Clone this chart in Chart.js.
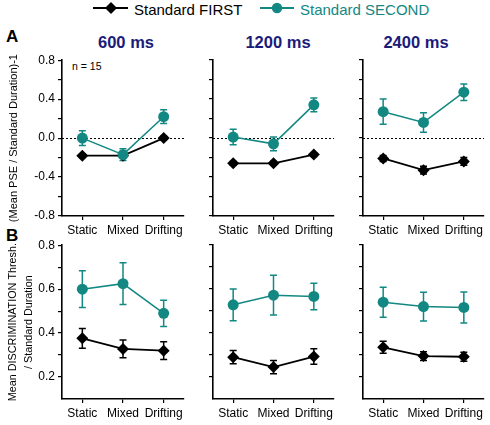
<!DOCTYPE html>
<html>
<head>
<meta charset="utf-8">
<script src="https://cdn.jsdelivr.net/npm/chart.js@4.4.1/dist/chart.umd.min.js"></script>
<style>
  html, body { margin:0; padding:0; background:#fff; }
  body { width:490px; height:425px; position:relative; overflow:hidden; font-family:"Liberation Sans", Arial, Helvetica, sans-serif; }
  canvas { position:absolute; }
  .txt { position:absolute; white-space:nowrap; line-height:1; }
  .title { font-weight:bold; font-size:16.5px; color:#1b1b7a; transform:translate(-50%,-50%); }
  .letter { font-weight:bold; font-size:17px; color:#000; transform:translate(0,-50%); }
  .leg { font-size:15px; transform:translate(0,-50%); }
  svg.icon { position:absolute; }
</style>
</head>
<body>
<svg class="icon" width="36" height="14" style="left:93px;top:1px;"><line x1="0" y1="7" x2="35" y2="7" stroke="#000" stroke-width="1.8"/><polygon points="18,1 24,7 18,13 12,7" fill="#000"/></svg>
<div class="txt leg" id="leg0" style="left:134px;top:9px;"></div>
<svg class="icon" width="36" height="14" style="left:260px;top:1px;"><line x1="0" y1="7" x2="34" y2="7" stroke="#138883" stroke-width="1.8"/><circle cx="17" cy="7" r="5.2" fill="#138883"/></svg>
<div class="txt leg" id="leg1" style="left:300px;top:9px;color:#138883;"></div>
<div class="txt letter" style="left:6px;top:36px;">A</div>
<div class="txt letter" style="left:6px;top:235px;">B</div>
<div class="txt title" id="t0" style="left:126px;top:42px;"></div>
<div class="txt title" id="t1" style="left:278px;top:42px;"></div>
<div class="txt title" id="t2" style="left:416px;top:42px;"></div>
<div class="txt" style="left:72px;top:61px;font-size:10.5px;">n = 15</div>

<script>
// ---------- DATA ----------
const categories = ['Static', 'Mixed', 'Drifting'];
const durations = ['600 ms', '1200 ms', '2400 ms'];
const seriesNames = ['Standard FIRST', 'Standard SECOND'];

// Panel A: (Mean PSE / Standard Duration)-1, one row per duration
const pseFirst     = [[-0.18, -0.18, 0.00], [-0.26, -0.26, -0.17], [-0.21, -0.33, -0.24]];
const pseFirstErr  = [[0.02, 0.02, 0.02],   [0.02, 0.02, 0.02],    [0.03, 0.04, 0.04]];
const pseSecond    = [[0.00, -0.17, 0.22],  [0.01, -0.06, 0.34],   [0.27, 0.16, 0.47]];
const pseSecondErr = [[0.075, 0.06, 0.07],  [0.08, 0.07, 0.07],    [0.13, 0.10, 0.085]];

// Panel B: Mean discrimination threshold / standard duration
const threshFirst     = [[0.376, 0.328, 0.320], [0.290, 0.245, 0.293], [0.335, 0.295, 0.292]];
const threshFirstErr  = [[0.045, 0.040, 0.040], [0.030, 0.030, 0.035], [0.027, 0.020, 0.020]];
const threshSecond    = [[0.600, 0.625, 0.490], [0.528, 0.572, 0.566], [0.540, 0.520, 0.516]];
const threshSecondErr = [[0.084, 0.095, 0.060], [0.072, 0.090, 0.060], [0.068, 0.065, 0.070]];

const pseTicks = [-0.8, -0.4, 0.0, 0.4, 0.8];
const threshTicks = [0.2, 0.4, 0.6, 0.8];

// ---------- STYLE ----------
const FONT = '"Liberation Sans", Arial, Helvetica, sans-serif';
const TEAL = '#138883';
const BLACK = '#000000';

durations.forEach((d, i) => { document.getElementById('t' + i).textContent = d; });
seriesNames.forEach((s, i) => { document.getElementById('leg' + i).textContent = s; });

const errorBarPlugin = {
  id: 'errorBars',
  beforeDatasetsDraw(chart) {
    const ctx = chart.ctx;
    const ys = chart.scales.y, xs = chart.scales.x;
    chart.data.datasets.forEach((ds) => {
      if (!ds.errors) return;
      ctx.save();
      ctx.strokeStyle = ds.borderColor;
      ctx.lineWidth = 1.5;
      ds.data.forEach((v, i) => {
        const x = xs.getPixelForValue(i);
        const yT = ys.getPixelForValue(v + ds.errors[i]);
        const yB = ys.getPixelForValue(v - ds.errors[i]);
        ctx.beginPath();
        ctx.moveTo(x, yT); ctx.lineTo(x, yB);
        ctx.moveTo(x - 3.5, yT); ctx.lineTo(x + 3.5, yT);
        ctx.moveTo(x - 3.5, yB); ctx.lineTo(x + 3.5, yB);
        ctx.stroke();
      });
      ctx.restore();
    });
  }
};

const zeroLinePlugin = {
  id: 'zeroLine',
  beforeDatasetsDraw(chart, args, opts) {
    if (!opts.show) return;
    const ctx = chart.ctx, ys = chart.scales.y, a = chart.chartArea;
    const y = Math.round(ys.getPixelForValue(0)) + 0.5;
    ctx.save();
    ctx.strokeStyle = '#000';
    ctx.lineWidth = 1;
    ctx.setLineDash([2, 2]);
    ctx.beginPath(); ctx.moveTo(a.left, y); ctx.lineTo(a.right, y); ctx.stroke();
    ctx.restore();
  }
};

function makeChart(row, col) {
  const canvas = document.createElement('canvas');
  const left = col === 0 ? 0 : (col === 1 ? 200 : 350);
  const width = col === 0 ? 190 : 140;
  const top = row === 0 ? 50 : 235;
  const height = 190;
  const yWidth = col === 0 ? 62 : 13;
  const xHeight = row === 0 ? 24 : 26;
  canvas.width = width; canvas.height = height;
  canvas.style.left = left + 'px'; canvas.style.top = top + 'px';
  canvas.style.width = width + 'px'; canvas.style.height = height + 'px';
  document.body.appendChild(canvas);

  const isA = row === 0;
  const first = isA ? pseFirst[col] : threshFirst[col];
  const firstErr = isA ? pseFirstErr[col] : threshFirstErr[col];
  const second = isA ? pseSecond[col] : threshSecond[col];
  const secondErr = isA ? pseSecondErr[col] : threshSecondErr[col];
  const tickList = isA ? pseTicks : threshTicks;
  const yMin = isA ? -0.8 : 0.1;
  const yMax = 0.8;
  const step = isA ? 0.2 : 0.1;

  let yTitle = { display: false };
  if (col === 0) {
    yTitle = isA
      ? { display: true, text: '(Mean PSE / Standard Duration)-1', color: '#000',
          font: { family: FONT, size: 11, lineHeight: 1.2 }, padding: { top: 7.4, bottom: 0 } }
      : { display: true, text: ['Mean DISCRIMINATION Thresh.', '/ Standard Duration'], color: '#000',
          font: { family: FONT, size: 10.8, lineHeight: 1.52 }, padding: { top: 4.5, bottom: 0 } };
  }

  new Chart(canvas, {
    type: 'line',
    data: {
      labels: categories,
      datasets: [
        { label: seriesNames[1], data: second, errors: secondErr, order: 0,
          borderColor: TEAL, backgroundColor: TEAL, borderWidth: 1.5,
          pointStyle: 'circle', pointRadius: 5.5, pointBorderWidth: 0, pointHoverRadius: 5.5 },
        { label: seriesNames[0], data: first, errors: firstErr, order: 1,
          borderColor: BLACK, backgroundColor: BLACK, borderWidth: 1.8,
          pointStyle: 'rectRot', pointRadius: 6, pointBorderWidth: 0, pointHoverRadius: 6 }
      ]
    },
    options: {
      responsive: false,
      animation: false,
      events: [],
      layout: { padding: { top: 10, right: 5, left: 0, bottom: 0 } },
      plugins: {
        legend: { display: false },
        tooltip: { enabled: false },
        zeroLine: { show: isA }
      },
      scales: {
        x: {
          type: 'category',
          offset: true,
          grid: { display: true, offset: false, drawOnChartArea: false, drawTicks: true, tickLength: 4, color: '#000', lineWidth: 1.2 },
          border: { display: true, color: '#000', width: 1.6 },
          ticks: { color: '#000', font: { family: FONT, size: 12 }, padding: 3, maxRotation: 0, autoSkip: false },
          afterFit(s) { s.height = xHeight; }
        },
        y: {
          min: yMin, max: yMax,
          grid: { display: true, drawOnChartArea: false, drawTicks: true, tickLength: 4, color: '#000', lineWidth: 1.2 },
          border: { display: true, color: '#000', width: 1.6 },
          ticks: {
            display: col === 0,
            stepSize: step,
            color: '#000',
            font: { family: FONT, size: 12 },
            padding: 3,
            autoSkip: false,
            callback(v) {
              const hit = tickList.find(t => Math.abs(t - v) < 1e-6);
              return hit === undefined ? '' : hit.toFixed(1);
            }
          },
          afterBuildTicks(s) {
            s.ticks = s.ticks.filter(t => isA || t.value > 0.1 + 1e-6);
          },
          title: yTitle,
          afterFit(s) { s.width = yWidth; }
        }
      }
    },
    plugins: [errorBarPlugin, zeroLinePlugin]
  });
}

for (let r = 0; r < 2; r++) for (let c = 0; c < 3; c++) makeChart(r, c);
</script>
</body>
</html>
